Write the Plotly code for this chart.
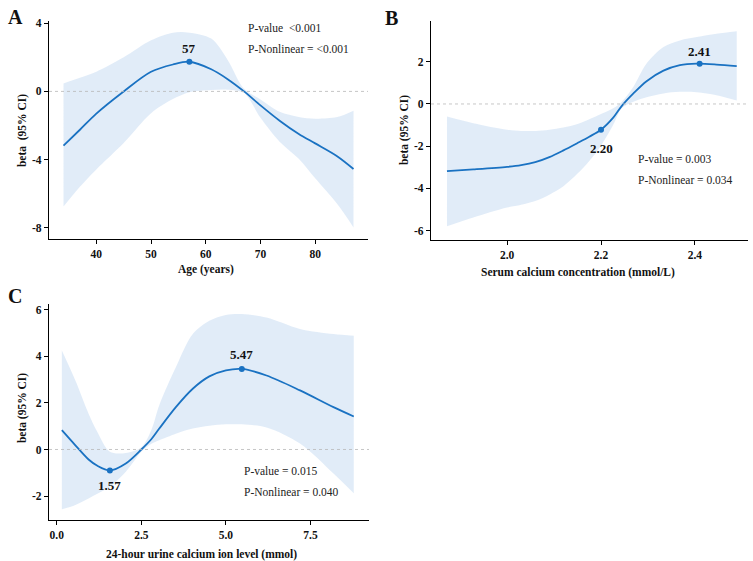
import plotly.graph_objects as go

# ---------------- data ----------------
# Panel A: Age
age_x = [34, 37, 40, 45, 50, 54, 57, 61, 64, 67, 70, 73.5, 77, 80, 84, 87]
age_fit = [-3.18, -2.25, -1.3, 0.0, 1.15, 1.58, 1.74, 1.3, 0.72, 0.0, -0.82, -1.72, -2.5, -3.05, -3.8, -4.55]
age_up = [0.47, 0.8, 1.15, 2.0, 3.0, 3.45, 3.45, 3.1, 1.85, 0.15, -0.47, -1.2, -1.5, -1.6, -1.5, -1.13]
age_lo = [-6.76, -5.6, -4.58, -3.03, -1.28, -0.45, -0.05, 0.08, 0.1, -0.1, -1.55, -2.95, -3.95, -5.1, -6.6, -7.98]
age_pts_x = [57]
age_pts_y = [1.74]
age_pts_lbl = ["57"]
age_xticks = [40, 50, 60, 70, 80]
age_yticks = [-8, -4, 0, 4]

# Panel B: Serum calcium
ca_x = [1.872, 1.928, 2.0, 2.03, 2.06, 2.09, 2.12, 2.15, 2.175, 2.2, 2.226, 2.244, 2.269, 2.297, 2.333, 2.368, 2.404, 2.446, 2.489]
ca_fit = [-3.18, -3.1, -2.98, -2.9, -2.76, -2.52, -2.2, -1.85, -1.55, -1.22, -0.65, -0.1, 0.5, 1.08, 1.58, 1.84, 1.91, 1.87, 1.79]
ca_up = [-0.59, -0.91, -1.22, -1.28, -1.28, -1.22, -1.12, -0.95, -0.72, -0.47, -0.2, 0.1, 0.82, 1.92, 2.7, 3.01, 3.17, 3.33, 3.45]
ca_lo = [-5.8, -5.38, -4.91, -4.78, -4.6, -4.3, -3.9, -3.3, -2.7, -1.98, -0.99, -0.2, 0.11, 0.32, 0.5, 0.58, 0.56, 0.42, 0.16]
ca_pts_x = [2.20, 2.41]
ca_pts_y = [-1.22, 1.91]
ca_pts_lbl = ["2.20", "2.41"]
ca_xticks = [2.0, 2.2, 2.4]
ca_yticks = [-6, -4, -2, 0, 2]

# Panel C: 24-hour urine calcium
ur_x = [0.15, 0.55, 0.94, 1.2, 1.57, 2.04, 2.5, 2.8, 3.03, 3.52, 4.02, 4.51, 5.0, 5.47, 6.2, 7.19, 8.18, 8.78]
ur_fit = [0.83, 0.18, -0.43, -0.7, -0.9, -0.6, 0.0, 0.45, 0.9, 1.82, 2.61, 3.14, 3.4, 3.46, 3.18, 2.54, 1.82, 1.42]
ur_up = [4.25, 2.96, 1.54, 0.75, -0.1, -0.15, 0.1, 0.85, 1.9, 3.53, 4.96, 5.53, 5.78, 5.82, 5.67, 5.18, 4.96, 4.89]
ur_lo = [-2.57, -2.38, -2.1, -1.9, -1.6, -0.96, -0.1, 0.25, 0.4, 0.68, 0.9, 1.02, 1.08, 1.08, 0.95, 0.26, -1.03, -1.88]
ur_pts_x = [1.57, 5.47]
ur_pts_y = [-0.9, 3.46]
ur_pts_lbl = ["1.57", "5.47"]
ur_xticks = [0.0, 2.5, 5.0, 7.5]
ur_yticks = [-2, 0, 2, 4, 6]

# ---------------- style ----------------
LINE = "#1a72c2"
FILL = "rgba(205,224,243,0.6)"
SERIF = "Liberation Serif"
W, H = 753, 561

def px(x):
    return x / W

def py(y):
    return 1 - y / H

def lab(v, fmt):
    return "<b>" + format(v, fmt).replace("\u2212", "-") + "</b>"

fig = go.Figure()

panels = [
    dict(n="", x=age_x, fit=age_fit, up=age_up, lo=age_lo, px_=age_pts_x, py_=age_pts_y, lbl=age_pts_lbl,
         lbl_dy=[0.75], xdom=[px(49), px(368)], ydom=[py(237), py(17)],
         xr=[31.35, 89.65], yr=[-8.68, 4.14], xt=age_xticks, yt=age_yticks, xfmt="d",
         ptxt=["P-value\u00a0 <0.001", "P-Nonlinear = <0.001"], ptx=67.4, pty=[3.73, 2.5]),
    dict(n="2", x=ca_x, fit=ca_fit, up=ca_up, lo=ca_lo, px_=ca_pts_x, py_=ca_pts_y, lbl=ca_pts_lbl,
         lbl_dy=[-0.87, 0.6], xdom=[px(431), px(748)], ydom=[py(237.3), py(17)],
         xr=[1.838, 2.513], yr=[-6.43, 3.94], xt=ca_xticks, yt=ca_yticks, xfmt=".1f",
         ptxt=["P-value = 0.003", "P-Nonlinear = 0.034"], ptx=2.274, pty=[-2.59, -3.61]),
    dict(n="3", x=ur_x, fit=ur_fit, up=ur_up, lo=ur_lo, px_=ur_pts_x, py_=ur_pts_y, lbl=ur_pts_lbl,
         lbl_dy=[-0.63, 0.61], xdom=[px(49), px(369)], ydom=[py(519.5), py(301.7)],
         xr=[-0.23, 9.23], yr=[-3.02, 6.27], xt=ur_xticks, yt=ur_yticks, xfmt=".1f",
         ptxt=["P-value = 0.015", "P-Nonlinear = 0.040"], ptx=5.48, pty=[-0.91, -1.84]),
]

annotations = []
shapes = []
for p in panels:
    xa = "x" + p["n"]
    ya = "y" + p["n"]
    fig.add_trace(go.Scatter(x=p["x"], y=p["up"], mode="lines", line=dict(width=0, shape="spline", smoothing=0.9),
                             xaxis=xa, yaxis=ya, showlegend=False, hoverinfo="skip"))
    fig.add_trace(go.Scatter(x=p["x"], y=p["lo"], mode="lines", line=dict(width=0, shape="spline", smoothing=0.9),
                             fill="tonexty", fillcolor=FILL,
                             xaxis=xa, yaxis=ya, showlegend=False, hoverinfo="skip"))
    fig.add_trace(go.Scatter(x=p["x"], y=p["fit"], mode="lines",
                             line=dict(color=LINE, width=1.8, shape="spline", smoothing=0.9),
                             xaxis=xa, yaxis=ya, showlegend=False))
    fig.add_trace(go.Scatter(x=p["px_"], y=p["py_"], mode="markers", marker=dict(color=LINE, size=6),
                             xaxis=xa, yaxis=ya, showlegend=False))
    for xv, yv, t, dy in zip(p["px_"], p["py_"], p["lbl"], p["lbl_dy"]):
        annotations.append(dict(x=xv, y=yv + dy, xref=xa, yref=ya, text="<b>" + t + "</b>", showarrow=False,
                                font=dict(family=SERIF, size=13, color="#111")))
    for t, yv in zip(p["ptxt"], p["pty"]):
        annotations.append(dict(x=p["ptx"], y=yv, xref=xa, yref=ya, text=t, showarrow=False, xanchor="left",
                                font=dict(family=SERIF, size=11.5, color="#222")))
    shapes.append(dict(type="line", xref=xa + " domain", yref=ya, x0=0, x1=1, y0=0, y1=0,
                       line=dict(color="#b8b8b8", width=0.8, dash="dot")))
    axkey = "" if p["n"] == "" else p["n"]
    common = dict(showline=True, linecolor="black", linewidth=1.3, ticks="outside", ticklen=4, tickwidth=1,
                  tickcolor="black", showgrid=False, zeroline=False, tickmode="array",
                  tickfont=dict(family=SERIF, size=11.5, color="#111"))
    fig.layout["xaxis" + axkey] = dict(domain=p["xdom"], range=p["xr"], tickvals=p["xt"],
                                       ticktext=[lab(v, p["xfmt"]) for v in p["xt"]], anchor=ya, **common)
    fig.layout["yaxis" + axkey] = dict(domain=p["ydom"], range=p["yr"], tickvals=p["yt"],
                                       ticktext=[lab(v, "d") for v in p["yt"]], anchor=xa, **common)

# axis titles
tfont = dict(family=SERIF, size=11.5, color="#111")
titles = [
    ("Age (years)", 206, 267, 0),
    ("Serum calcium concentration (mmol/L)", 578, 270, 0),
    ("24-hour urine calcium ion level (mmol)", 201, 554, 0),
    ("beta\u00a0 (95% CI)", 22, 128, -90),
    ("beta (95% CI)", 404, 127, -90),
    ("beta (95% CI)", 22, 407, -90),
]
for t, x, y, ang in titles:
    annotations.append(dict(x=px(x), y=py(y), xref="paper", yref="paper", text="<b>" + t + "</b>",
                            showarrow=False, textangle=ang, font=tfont, xanchor="center", yanchor="middle"))

# panel letters
for t, x, y in [("A", 15, 13), ("B", 391, 14), ("C", 15, 294)]:
    annotations.append(dict(x=px(x), y=py(y), xref="paper", yref="paper", text="<b>" + t + "</b>",
                            showarrow=False, font=dict(family=SERIF, size=20, color="#111"),
                            xanchor="center", yanchor="middle"))

fig.update_layout(width=W, height=H, margin=dict(l=0, r=0, t=0, b=0), paper_bgcolor="white",
                  plot_bgcolor="white", annotations=annotations, shapes=shapes)

fig.write_html("out.html", config={"displayModeBar": False},
               post_script="document.body.style.margin='0';document.body.style.overflow='hidden';")
